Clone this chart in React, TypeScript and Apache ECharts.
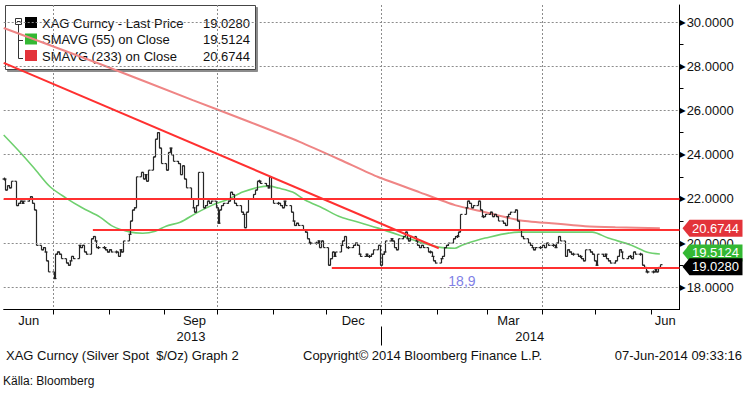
import React, { useEffect, useRef } from 'react';
import * as echarts from 'echarts';

const FONT = "'Liberation Sans', Arial, sans-serif";

// ---------- calendar categories (every calendar day on the x axis) ----------
const START_UTC = Date.UTC(2013, 5, 3);
const END_UTC = Date.UTC(2014, 5, 17);
const days: string[] = [];
for (let t = START_UTC; t <= END_UTC; t += 86400000) days.push(new Date(t).toISOString().slice(0, 10));

// ---------- XAG daily closes, one row per week (Mon..Fri), first week starts 2013-06-03 ----------
const weeklyCloses: number[][] = [
  [22.9, 22.4, 22.6, 22.5, 22.8],
  [21.7, 21.8, 21.9, 21.8, 21.9],
  [22.0, 22.1, 21.8, 21.5, 19.9],
  [19.7, 19.8, 19.6, 19.2, 18.7],
  [18.4, 19.5, 19.6, 19.5, 19.3],
  [19.1, 19.0, 19.2, 19.4, 19.3],
  [19.9, 19.8, 19.9, 19.6, 19.5],
  [20.2, 20.3, 20.1, 19.8, 19.8],
  [19.8, 19.7, 19.6, 19.7, 19.6],
  [19.6, 19.4, 19.7, 19.6, 20.1],
  [20.4, 21.0, 21.5, 21.6, 23.0],
  [23.2, 22.9, 23.1, 22.8, 23.3],
  [23.9, 24.7, 25.0, 24.3, 23.6],
  [23.3, 24.1, 24.3, 24.0, 23.7],
  [23.6, 23.1, 23.5, 22.9, 22.5],
  [22.0, 21.6, 21.4, 21.7, 23.2],
  [21.6, 21.7, 21.9, 21.8, 21.9],
  [21.6, 20.9, 21.5, 21.7, 21.8],
  [21.9, 22.3, 22.2, 21.8, 21.7],
  [21.4, 21.3, 20.7, 21.4, 22.0],
  [22.2, 22.4, 22.8, 22.8, 22.7],
  [22.6, 22.5, 23.0, 22.0, 21.8],
  [21.8, 21.7, 21.6, 21.9, 21.7],
  [21.4, 21.0, 20.8, 20.9, 20.8],
  [20.6, 20.5, 20.2, 20.0, 20.0],
  [20.0, 20.1, 19.8, 20.1, 19.8],
  [19.0, 19.3, 19.6, 19.4, 19.6],
  [19.9, 20.1, 20.3, 19.8, 19.8],
  [19.9, 20.0, 19.9, 19.5, 19.4],
  [19.5, 19.4, 19.4, 19.5, 19.7],
  [19.9, 19.0, 19.5, 19.6, 20.1],
  [20.2, 20.1, 19.8, 19.7, 20.2],
  [20.3, 20.5, 20.2, 20.1, 20.3],
  [20.1, 19.9, 19.8, 19.9, 19.8],
  [19.6, 19.6, 19.4, 19.2, 19.1],
  [19.3, 19.4, 19.8, 19.9, 20.0],
  [20.2, 20.3, 20.3, 20.5, 21.3],
  [21.6, 21.9, 21.8, 21.6, 21.7],
  [21.9, 21.5, 21.2, 21.2, 21.3],
  [21.4, 21.2, 21.3, 21.2, 21.0],
  [20.9, 20.8, 21.2, 21.3, 21.4],
  [21.5, 21.0, 20.6, 20.3, 20.2],
  [20.0, 19.9, 19.8, 19.7, 19.8],
  [19.8, 19.9, 19.8, 20.0, 19.9],
  [19.9, 19.8, 20.0, 20.3, 20.1],
  [19.4, 19.7, 19.6, 19.5, 19.5],
  [19.4, 19.4, 19.3, 19.2, 19.7],
  [19.6, 19.5, 19.2, 19.0, 19.5],
  [19.4, 19.5, 19.3, 19.2, 19.1],
  [19.2, 19.4, 19.7, 19.6, 19.3],
  [19.4, 19.4, 19.3, 19.6, 19.5],
  [19.5, 19.0, 18.9, 18.7, 18.7],
  [18.7, 18.8, 18.7, 18.9, 19.028],
];

// ---------- moving averages (date, value) ----------
const ma55: [string, number][] = [
  ['2013-06-03', 24.89], ['2013-06-11', 24.21], ['2013-06-20', 23.40], ['2013-06-29', 22.55],
  ['2013-07-08', 22.04], ['2013-07-17', 21.60], ['2013-07-27', 21.18], ['2013-08-03', 20.77],
  ['2013-08-13', 20.50], ['2013-08-20', 20.45], ['2013-08-27', 20.54], ['2013-09-02', 20.77],
  ['2013-09-10', 20.95], ['2013-09-19', 21.36], ['2013-09-28', 21.72], ['2013-10-07', 21.99],
  ['2013-10-15', 22.31], ['2013-10-24', 22.53], ['2013-10-30', 22.58], ['2013-11-04', 22.49],
  ['2013-11-12', 22.31], ['2013-11-19', 21.95], ['2013-11-29', 21.58], ['2013-12-09', 21.18],
  ['2013-12-19', 20.95], ['2013-12-30', 20.68], ['2014-01-11', 20.36], ['2014-01-22', 20.05],
  ['2014-02-02', 19.82], ['2014-02-11', 19.77], ['2014-02-15', 19.91], ['2014-02-28', 20.23],
  ['2014-03-19', 20.50], ['2014-04-06', 20.50], ['2014-04-29', 20.50], ['2014-05-08', 20.23],
  ['2014-05-21', 19.91], ['2014-05-30', 19.59], ['2014-06-06', 19.5124],
];
const ma233: [string, number][] = [
  ['2013-06-03', 29.73], ['2013-07-27', 28.10], ['2013-09-17', 26.47], ['2013-10-19', 25.48],
  ['2013-11-16', 24.58], ['2013-12-09', 23.76], ['2013-12-30', 22.99], ['2014-01-22', 22.31],
  ['2014-02-11', 21.72], ['2014-02-28', 21.40], ['2014-03-19', 21.04], ['2014-04-06', 20.90],
  ['2014-04-25', 20.77], ['2014-05-12', 20.72], ['2014-06-06', 20.6744],
];

// ---------- hand-drawn annotations ----------
const trendLine: [string, number][] = [['2013-06-03', 28.15], ['2014-02-02', 19.77]];
const levelLines: [string, number][] = [['2013-06-03', 22.0], ['2013-07-23', 20.6], ['2013-12-04', 18.9]];
const levelEnd = '2014-06-17';
const levelNote: [string, number, string] = ['2014-02-15', 18.28, '18,9'];

// ---------- axis labels ----------
const monthLabelDays = ['2013-06-17', '2013-09-18', '2013-12-16', '2014-03-13', '2014-06-09'];
const monthLabels = ['Jun', 'Sep', 'Dec', 'Mar', 'Jun'];
const yearLabelDays = ['2013-09-16', '2014-03-25'];
const yearLabels = ['2013', '2014'];
const yearBreak = '2014-01-01';
const quarterStarts = ['2013-07-01', '2013-10-01', '2014-01-01', '2014-04-01'];
const gridValues = [18, 20, 22, 24, 26, 28, 30];

// ---------- legend ----------
const legendNames = ['XAG Curncy - Last Price', 'SMAVG (55) on Close', 'SMAVG (233) on Close'];
const legendValues = ['19.0280', '19.5124', '20.6744'];
const lastValues = [19.028, 19.5124, 20.6744];
const seriesColors = ['#000000', '#33b833', '#e3333a'];

const idx = (d: string) => days.indexOf(d);

export default function App() {
  const ref = useRef<HTMLDivElement>(null);
  useEffect(() => {
    document.body.style.margin = '0';
    const chart = echarts.init(ref.current!, null, { renderer: 'svg' });

    const priceData: number[][] = [];
    let prev = weeklyCloses[0][0];
    weeklyCloses.forEach((wk, w) => {
      wk.forEach((c, i) => {
        priceData.push([w * 7 + i, prev, c]);
        prev = c;
      });
    });

    const flag = (value: number, text: string, color: string, z: number, dy = 0) => ({
      symbol: 'path://M0,8L7,0L60,0L60,16L7,16Z',
      symbolSize: [60, 17],
      symbolOffset: [33, dy],
      coord: [days.length - 1, value],
      itemStyle: { color },
      label: {
        show: true, position: 'inside', formatter: text, color: '#fff',
        fontSize: 13, fontFamily: FONT, offset: [3, 0],
      },
      z,
    });

    const redLine = { color: '#ff3030', width: 2, type: 'solid' };

    const option: any = {
      animation: false,
      backgroundColor: '#ffffff',
      grid: { left: 3.7, right: 67.5, top: 5, bottom: 88.5, containLabel: false, outerBoundsMode: 'none' },
      xAxis: [
        {
          type: 'category', data: days, boundaryGap: false,
          axisLine: { show: true, lineStyle: { color: '#000', width: 1 } },
          axisTick: { show: true, interval: (_i: number, v: string) => v.endsWith('-01'), length: 5, lineStyle: { color: '#000' } },
          axisLabel: {
            show: true, interval: (_i: number, v: string) => monthLabelDays.includes(v),
            formatter: (v: string) => monthLabels[monthLabelDays.indexOf(v)] ?? '',
            margin: 4, color: '#111', fontSize: 13, fontFamily: FONT,
          },
          splitLine: {
            show: true, interval: (_i: number, v: string) => quarterStarts.includes(v),
            lineStyle: { color: '#8c8c8c', type: [2, 2], width: 1 },
          },
        },
        {
          type: 'category', data: days, boundaryGap: false, position: 'bottom', offset: 17,
          axisLine: { show: false },
          axisTick: { show: true, interval: (_i: number, v: string) => v === yearBreak, length: 19, lineStyle: { color: '#000' } },
          axisLabel: {
            show: true, interval: (_i: number, v: string) => yearLabelDays.includes(v),
            formatter: (v: string) => yearLabels[yearLabelDays.indexOf(v)] ?? '',
            margin: 3, color: '#111', fontSize: 13, fontFamily: FONT,
          },
          splitLine: { show: false },
        },
      ],
      yAxis: {
        type: 'value', position: 'right', min: 17, max: 30.77, interval: 1,
        axisLine: { show: true, lineStyle: { color: '#000', width: 1 } },
        axisTick: { show: true, length: 4, lineStyle: { color: '#000' } },
        splitLine: { show: false },
        axisLabel: {
          showMaxLabel: false, showMinLabel: false, margin: 0,
          formatter: (v: number) => {
            const r = Math.round(v);
            if (Math.abs(v - r) > 1e-6 || r % 2 !== 0) return '';
            return '{a|▶}{b|' + r.toFixed(4) + '}';
          },
          rich: {
            a: { fontSize: 8, color: '#000', fontFamily: 'DejaVu Sans', padding: [0, 1, 0, 0] },
            b: { fontSize: 13, color: '#111', fontFamily: FONT },
          },
        },
      },
      series: [
        {
          name: 'grid', type: 'line', data: [], silent: true, z: 1,
          markLine: {
            silent: true, symbol: ['none', 'none'], animation: false, label: { show: false },
            lineStyle: { color: '#8c8c8c', type: [2, 2], width: 1 },
            data: gridValues.map((v) => ({ yAxis: v })),
          },
        },
        {
          name: 'SMAVG (233) on Close', type: 'line', z: 2,
          data: ma233.map(([d, v]) => [idx(d), v]),
          showSymbol: false, smooth: 0.2,
          lineStyle: { color: '#ef8585', width: 2 },
          markPoint: { animation: false, data: [flag(lastValues[2], legendValues[2], '#e3333a', 20)] },
        },
        {
          name: 'SMAVG (55) on Close', type: 'line', z: 2,
          data: ma55.map(([d, v]) => [idx(d), v]),
          showSymbol: false, smooth: 0.3,
          lineStyle: { color: '#6fd06f', width: 1.6 },
          markPoint: { animation: false, data: [flag(lastValues[1], legendValues[1], '#33b833', 21, -1)] },
        },
        {
          name: 'XAG Curncy - Last Price', type: 'custom', z: 3,
          data: priceData,
          encode: { x: 0, y: [1, 2] },
          renderItem: (_p: any, api: any) => {
            const di = api.value(0);
            const o = api.value(1);
            const c = api.value(2);
            const p1 = api.coord([di, o]);
            const p2 = api.coord([di, c]);
            const x = Math.round(p2[0]) + 0.5;
            let y1 = p1[1];
            let y2 = p2[1];
            if (Math.abs(y1 - y2) < 3) { const m = (y1 + y2) / 2; y1 = m - 1.5; y2 = m + 1.5; }
            const st = { stroke: '#262626', lineWidth: 1.2 };
            return {
              type: 'group',
              children: [
                { type: 'line', shape: { x1: x, y1, x2: x, y2 }, style: st },
                { type: 'line', shape: { x1: x - 2, y1: p1[1], x2: x, y2: p1[1] }, style: st },
                { type: 'line', shape: { x1: x, y1: p2[1], x2: x + 2, y2: p2[1] }, style: st },
              ],
            };
          },
          markPoint: { animation: false, data: [flag(lastValues[0], legendValues[0], '#000000', 22, 2)] },
        },
        {
          name: 'annotations', type: 'line', data: [], silent: true, z: 4,
          markLine: {
            silent: true, symbol: ['none', 'none'], animation: false, label: { show: false },
            lineStyle: redLine,
            data: [
              [{ coord: [idx(trendLine[0][0]), trendLine[0][1]] }, { coord: [idx(trendLine[1][0]), trendLine[1][1]] }],
              ...levelLines.map(([d, v]) => [{ coord: [idx(d), v] }, { coord: [idx(levelEnd), v] }]),
            ],
          },
          markPoint: {
            silent: true, animation: false,
            data: [{
              coord: [idx(levelNote[0]), levelNote[1]], symbol: 'circle', symbolSize: 0,
              label: { show: true, position: 'inside', formatter: levelNote[2], color: '#7f7fe6', fontSize: 14, fontFamily: FONT },
            }],
          },
        },
      ],
      graphic: [
        {
          type: 'group', z: 100,
          children: [
            {
              type: 'rect', shape: { x: 5.5, y: 5.5, width: 250, height: 64 },
              style: { fill: '#ffffff', stroke: '#444', lineWidth: 1, shadowColor: 'rgba(0,0,0,0.45)', shadowOffsetX: 2, shadowOffsetY: 2, shadowBlur: 0 },
            },
            { type: 'rect', shape: { x: 15.5, y: 18.5, width: 6, height: 6 }, style: { fill: '#fff', stroke: '#333', lineWidth: 1 } },
            { type: 'line', shape: { x1: 17, y1: 21.5, x2: 20.5, y2: 21.5 }, style: { stroke: '#333', lineWidth: 1 } },
            { type: 'line', shape: { x1: 18.5, y1: 25, x2: 18.5, y2: 58.5 }, style: { stroke: '#333', lineWidth: 1 } },
            { type: 'line', shape: { x1: 18.5, y1: 40.5, x2: 23, y2: 40.5 }, style: { stroke: '#333', lineWidth: 1 } },
            { type: 'line', shape: { x1: 18.5, y1: 58.5, x2: 23, y2: 58.5 }, style: { stroke: '#333', lineWidth: 1 } },
            ...legendNames.flatMap((name, i) => [
              { type: 'rect', shape: { x: 25, y: 17 + i * 16.5, width: 12, height: 11 }, style: { fill: seriesColors[i] } },
              { type: 'text', x: 42, y: 23 + i * 16.5, style: { text: name, fill: '#111', font: `13px ${FONT}`, textVerticalAlign: 'middle' } },
              { type: 'text', x: 250, y: 23 + i * 16.5, style: { text: legendValues[i], fill: '#111', font: `13px ${FONT}`, textAlign: 'right', textVerticalAlign: 'middle' } },
            ]),
          ],
        },
        { type: 'text', x: 6, y: 355, style: { text: 'XAG Curncy (Silver Spot  $/Oz) Graph 2', fill: '#111', font: `13px ${FONT}`, textVerticalAlign: 'middle' } },
        { type: 'text', x: 303, y: 355, style: { text: 'Copyright© 2014 Bloomberg Finance L.P.', fill: '#111', font: `13px ${FONT}`, textVerticalAlign: 'middle' } },
        { type: 'text', x: 742, y: 355, style: { text: '07-Jun-2014 09:33:16', fill: '#111', font: `13px ${FONT}`, textAlign: 'right', textVerticalAlign: 'middle' } },
        { type: 'text', x: 3, y: 381, style: { text: 'Källa: Bloomberg', fill: '#111', font: `12px ${FONT}`, textVerticalAlign: 'middle' } },
      ],
    };
    chart.setOption(option);
    return () => chart.dispose();
  }, []);
  return <div ref={ref} style={{ width: 747, height: 398, position: 'absolute', left: 0, top: 0, background: '#fff' }} />;
}
